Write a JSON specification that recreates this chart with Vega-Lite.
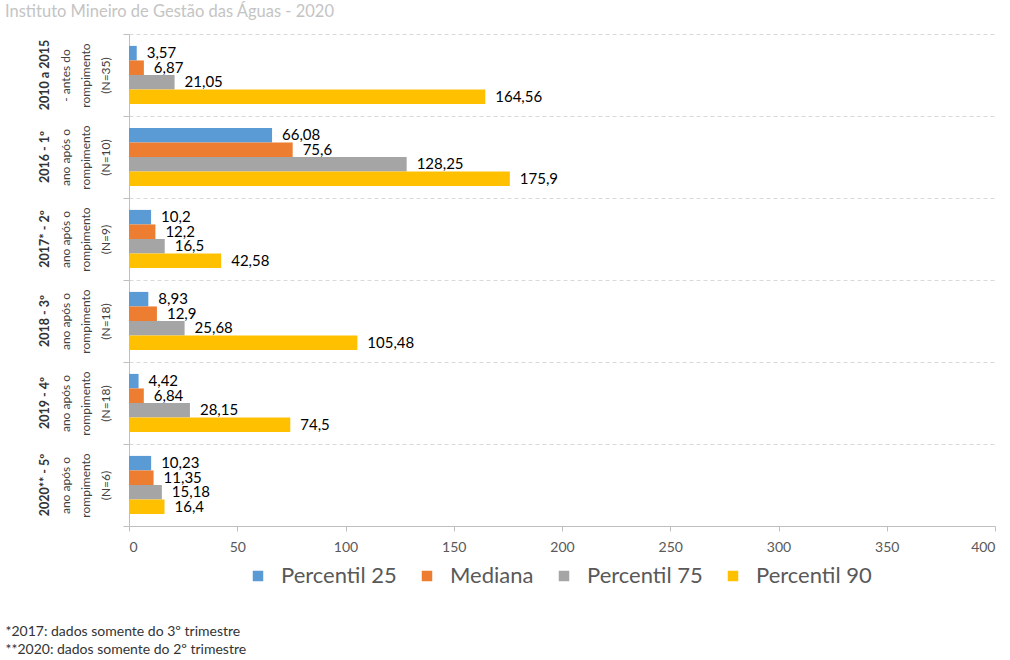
{
  "$schema": "https://vega.github.io/schema/vega-lite/v6.json",
  "width": 866,
  "height": 492,
  "autosize": {"type": "none"},
  "padding": {"left": 129, "top": 34, "right": 15, "bottom": 134},
  "background": "white",
  "config": {
    "view": {"stroke": null},
    "font": "Lato",
    "locale": {"number": {"decimal": ",", "thousands": ".", "grouping": [3], "currency": ["", ""]}}
  },
  "title": {
    "text": "Instituto Mineiro de Gestão das Águas - 2020",
    "anchor": "start",
    "frame": "group",
    "dx": -124,
    "offset": 13,
    "fontSize": 16.5,
    "fontWeight": "normal",
    "color": "#c4c4c4",
    "font": "Lato"
  },
  "data": {
    "values": [
      {"periodo": "2010 a 2015|- antes do|rompimento|(N=35)", "serie": "Percentil 25", "valor": 3.57},
      {"periodo": "2010 a 2015|- antes do|rompimento|(N=35)", "serie": "Mediana", "valor": 6.87},
      {"periodo": "2010 a 2015|- antes do|rompimento|(N=35)", "serie": "Percentil 75", "valor": 21.05},
      {"periodo": "2010 a 2015|- antes do|rompimento|(N=35)", "serie": "Percentil 90", "valor": 164.56},
      {"periodo": "2016 - 1º|ano após o|rompimento|(N=10)", "serie": "Percentil 25", "valor": 66.08},
      {"periodo": "2016 - 1º|ano após o|rompimento|(N=10)", "serie": "Mediana", "valor": 75.6},
      {"periodo": "2016 - 1º|ano após o|rompimento|(N=10)", "serie": "Percentil 75", "valor": 128.25},
      {"periodo": "2016 - 1º|ano após o|rompimento|(N=10)", "serie": "Percentil 90", "valor": 175.9},
      {"periodo": "2017* - 2º|ano após o|rompimento|(N=9)", "serie": "Percentil 25", "valor": 10.2},
      {"periodo": "2017* - 2º|ano após o|rompimento|(N=9)", "serie": "Mediana", "valor": 12.2},
      {"periodo": "2017* - 2º|ano após o|rompimento|(N=9)", "serie": "Percentil 75", "valor": 16.5},
      {"periodo": "2017* - 2º|ano após o|rompimento|(N=9)", "serie": "Percentil 90", "valor": 42.58},
      {"periodo": "2018 - 3º|ano após o|rompimento|(N=18)", "serie": "Percentil 25", "valor": 8.93},
      {"periodo": "2018 - 3º|ano após o|rompimento|(N=18)", "serie": "Mediana", "valor": 12.9},
      {"periodo": "2018 - 3º|ano após o|rompimento|(N=18)", "serie": "Percentil 75", "valor": 25.68},
      {"periodo": "2018 - 3º|ano após o|rompimento|(N=18)", "serie": "Percentil 90", "valor": 105.48},
      {"periodo": "2019 - 4º|ano após o|rompimento|(N=18) ", "serie": "Percentil 25", "valor": 4.42},
      {"periodo": "2019 - 4º|ano após o|rompimento|(N=18) ", "serie": "Mediana", "valor": 6.84},
      {"periodo": "2019 - 4º|ano após o|rompimento|(N=18) ", "serie": "Percentil 75", "valor": 28.15},
      {"periodo": "2019 - 4º|ano após o|rompimento|(N=18) ", "serie": "Percentil 90", "valor": 74.5},
      {"periodo": "2020** - 5º|ano após o|rompimento|(N=6)", "serie": "Percentil 25", "valor": 10.23},
      {"periodo": "2020** - 5º|ano após o|rompimento|(N=6)", "serie": "Mediana", "valor": 11.35},
      {"periodo": "2020** - 5º|ano após o|rompimento|(N=6)", "serie": "Percentil 75", "valor": 15.18},
      {"periodo": "2020** - 5º|ano após o|rompimento|(N=6)", "serie": "Percentil 90", "valor": 16.4}
    ]
  },
  "encoding": {
    "x": {
      "field": "valor",
      "type": "quantitative",
      "scale": {"domain": [0, 400], "nice": false},
      "axis": {
        "values": [0, 50, 100, 150, 200, 250, 300, 350, 400],
        "grid": false,
        "domainColor": "#bfbfbf",
        "tickColor": "#bfbfbf",
        "tickSize": 5,
        "labelFontSize": 14,
        "labelColor": "#595959",
        "labelPadding": 9,
        "labelFont": "Lato",
        "title": ["*2017: dados somente do 3º trimestre", "**2020: dados somente do 2º trimestre"],
        "titleX": -124,
        "titleY": 98,
        "titleAlign": "left",
        "titleBaseline": "top",
        "titleFontSize": 14,
        "titleFontWeight": "normal",
        "titleColor": "#333333",
        "titleLineHeight": 18,
        "titleFont": "Lato"
      }
    },
    "yOffset": {
      "field": "serie",
      "type": "nominal",
      "sort": ["Percentil 25", "Mediana", "Percentil 75", "Percentil 90"],
      "scale": {"paddingInner": 0, "paddingOuter": 0.818}
    }
  },
  "layer": [
    {
      "mark": {"type": "bar"},
      "encoding": {
        "y": {
          "field": "periodo",
          "type": "nominal",
          "sort": null,
          "scale": {"paddingInner": 0, "paddingOuter": 0},
          "axis": {
            "orient": "left",
            "title": null,
            "tickBand": "extent",
            "grid": true,
            "gridColor": "#d9d9d9",
            "gridDash": [4, 3],
            "domainColor": "#bfbfbf",
            "tickColor": "#bfbfbf",
            "tickSize": 6,
            "labelAngle": 270,
            "labelAlign": "center",
            "labelBaseline": "bottom",
            "labelPadding": 51,
            "labelExpr": "slice(split(datum.value, '|'), 1)",
            "labelFontSize": 12,
            "labelLineHeight": 20,
            "labelColor": "#404040",
            "labelFont": "Lato"
          }
        },
        "color": {
          "field": "serie",
          "type": "nominal",
          "scale": {
            "domain": ["Percentil 25", "Mediana", "Percentil 75", "Percentil 90"],
            "range": ["#5B9BD5", "#ED7D31", "#A5A5A5", "#FFC000"]
          },
          "legend": {
            "orient": "none",
            "direction": "horizontal",
            "legendX": 118,
            "legendY": 531,
            "title": null,
            "symbolType": "square",
            "symbolSize": 110,
            "symbolStrokeWidth": 0,
            "labelFontSize": 22,
            "labelColor": "#595959",
            "labelOffset": 12,
            "columnPadding": 19,
            "labelFont": "Lato"
          }
        }
      }
    },
    {
      "mark": {"type": "text", "align": "left", "baseline": "middle", "dx": 10, "fontSize": 15, "color": "#000000", "font": "Lato"},
      "encoding": {
        "y": {
          "field": "periodo",
          "type": "nominal",
          "sort": null,
          "scale": {"paddingInner": 0, "paddingOuter": 0},
          "axis": {
            "orient": "left",
            "title": null,
            "domain": false,
            "ticks": false,
            "grid": false,
            "labelAngle": 270,
            "labelAlign": "center",
            "labelBaseline": "bottom",
            "labelPadding": 78,
            "labelExpr": "split(datum.value, '|')[0]",
            "labelFontSize": 12.5,
            "labelFontWeight": "bold",
            "labelColor": "#333333",
            "labelFont": "Lato"
          }
        },
        "text": {"field": "valor", "type": "quantitative", "format": "~g"}
      }
    }
  ],
  "resolve": {"axis": {"y": "independent"}}
}
